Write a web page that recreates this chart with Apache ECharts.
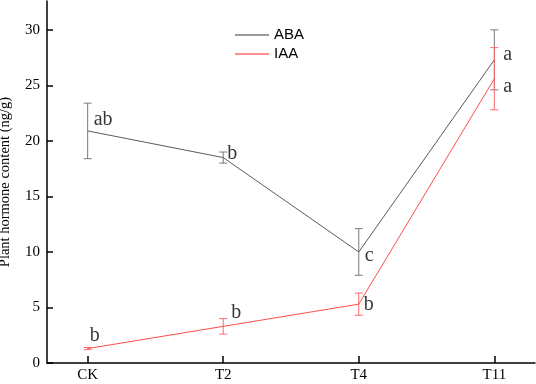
<!DOCTYPE html>
<html><head><meta charset="utf-8">
<script src="https://cdn.jsdelivr.net/npm/echarts@6/dist/echarts.min.js"></script>
<style>html,body{margin:0;padding:0;background:#fff}#c{width:536px;height:384px}</style>
</head><body><div id="c"></div>
<script>
const categories = ['CK', 'T2', 'T4', 'T11'];
const abaValues = [20.9, 18.5, 10.0, 27.3];
const abaErrors = [2.5, 0.5, 2.1, 2.7];
const abaLetters = ['ab', 'b', 'c', 'a'];
const iaaValues = [1.3, 3.3, 5.3, 25.6];
const iaaErrors = [0.1, 0.7, 1.0, 2.8];
const iaaLetters = ['b', 'b', 'b', 'a'];
const yTicks = [0, 5, 10, 15, 20, 25, 30];

const ABA_LINE = '#5a5a5a', ABA_ERR = '#7a7a7a';
const IAA_LINE = '#ff4d4d', IAA_ERR = '#ff6b6b';
const serif = 'Times New Roman, Liberation Serif, serif';

// label offsets (layout only)
const abaOff = [[6, -11], [4, -4], [6, 4], [9, -5]];
const iaaOff = [[2, -13], [8, -14], [5, 1], [9, 8]];

function errSeries(name, vals, errs, color) {
  return {
    type: 'custom', silent: true, z: 3,
    data: vals.map((v, i) => [i, v - errs[i], v + errs[i]]),
    renderItem: function (params, api) {
      const lo = api.coord([api.value(0), api.value(1)]);
      const hi = api.coord([api.value(0), api.value(2)]);
      const w = 4;
      const st = { stroke: color, lineWidth: 1 };
      return { type: 'group', children: [
        { type: 'line', shape: { x1: lo[0], y1: lo[1], x2: hi[0], y2: hi[1] }, style: st },
        { type: 'line', shape: { x1: lo[0] - w, y1: lo[1], x2: lo[0] + w, y2: lo[1] }, style: st },
        { type: 'line', shape: { x1: hi[0] - w, y1: hi[1], x2: hi[0] + w, y2: hi[1] }, style: st }
      ]};
    }
  };
}

function lineSeries(name, vals, color) {
  return {
    type: 'line', name: name, z: 4,
    data: vals.map((v, i) => [i, v]),
    symbol: 'none', lineStyle: { color: color, width: 1 }, itemStyle: { color: color }
  };
}

function letterSeries(vals, letters, offs) {
  return {
    type: 'scatter', silent: true, z: 5, symbolSize: 0,
    data: vals.map((v, i) => ({
      value: [i, v],
      label: { show: true, formatter: letters[i], position: 'right', offset: offs[i], distance: 0,
        color: '#000', fontFamily: serif, fontSize: 20 }
    })),
    itemStyle: { color: 'transparent' }
  };
}

const chart = echarts.init(document.getElementById('c'), null, { renderer: 'canvas' });
chart.setOption({
  animation: false,
  grid: { left: 47, right: 1, top: 1, bottom: 21, outerBoundsMode: 'none', containLabel: false },
  legend: {
    left: 235, top: 27.5, orient: 'vertical', itemGap: 4, itemWidth: 34, itemHeight: 1.5, padding: 0,
    textStyle: { fontFamily: 'Liberation Sans, Arial, sans-serif', fontSize: 15, color: '#000', lineHeight: 15 },
    data: [
      { name: 'ABA', icon: 'rect', itemStyle: { color: ABA_ERR } },
      { name: 'IAA', icon: 'rect', itemStyle: { color: IAA_ERR } }
    ]
  },
  xAxis: {
    type: 'value', min: -0.3, max: 3.3,
    axisLine: { onZero: false, lineStyle: { color: '#000', width: 1.5 } },
    axisTick: { inside: true, length: 7, lineStyle: { color: '#000', width: 1.5 }, customValues: [0, 1, 2, 3] },
    axisLabel: { customValues: [0, 1, 2, 3], formatter: v => categories[Math.round(v)] || '',
      fontFamily: serif, fontSize: 15, color: '#000', margin: 5 },
    splitLine: { show: false }
  },
  yAxis: {
    type: 'value', min: 0, max: 32.6,
    name: 'Plant hormone content (ng/g)', nameLocation: 'middle', nameGap: 34,
    nameTextStyle: { fontFamily: serif, fontSize: 14.5, color: '#000' },
    axisLine: { show: true, onZero: false, lineStyle: { color: '#000', width: 1.5 } },
    axisTick: { inside: true, length: 6, lineStyle: { color: '#000', width: 1.5 }, customValues: yTicks },
    axisLabel: { customValues: yTicks, fontFamily: serif, fontSize: 15, color: '#000', margin: 7 },
    splitLine: { show: false }
  },
  series: [
    lineSeries('ABA', abaValues, ABA_LINE),
    lineSeries('IAA', iaaValues, IAA_LINE),
    errSeries('ABA', abaValues, abaErrors, ABA_ERR),
    errSeries('IAA', iaaValues, iaaErrors, IAA_ERR),
    letterSeries(abaValues, abaLetters, abaOff),
    letterSeries(iaaValues, iaaLetters, iaaOff)
  ]
});
</script></body></html>
